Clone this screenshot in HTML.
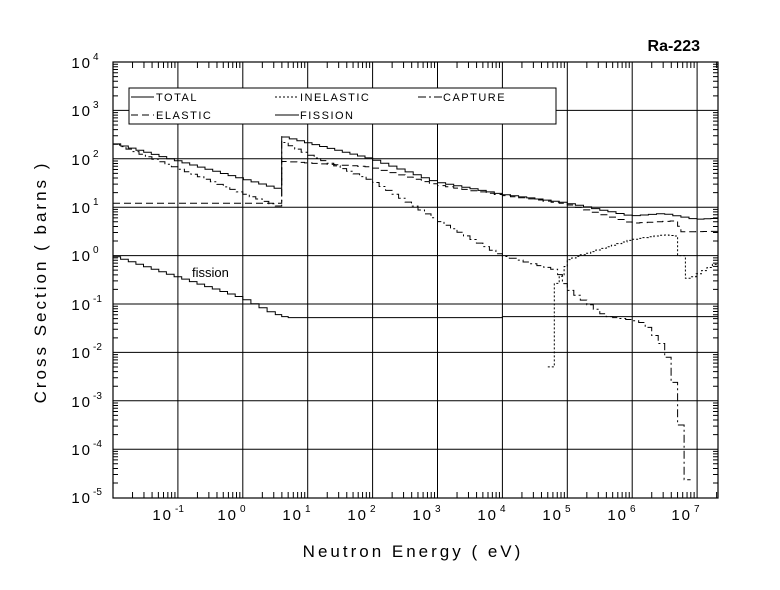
<!DOCTYPE html>
<html><head><meta charset="utf-8"><style>
html,body{margin:0;padding:0;background:#fff;}
svg{display:block;font-family:"Liberation Sans",sans-serif;}
.t{font-size:15px;letter-spacing:2px;fill:#000;}
.s{font-size:10px;fill:#000;}
</style></head><body>
<svg id="c" width="780" height="590" viewBox="0 0 780 590" xmlns="http://www.w3.org/2000/svg">
<rect width="780" height="590" fill="#fff"/>
<g id="grid" stroke="#000" stroke-width="1" fill="none"></g>
<g id="curves" fill="none" stroke="#000" stroke-width="1"></g>
<rect x="113" y="62" width="605" height="436" fill="none" stroke="#000" stroke-width="1.2"/>
<text x="700" y="51" text-anchor="end" style="font-size:16px;font-weight:bold">Ra-223</text>
<g class="t" text-anchor="end">
<text x="92" y="68">10</text><text x="92" y="116">10</text><text x="92" y="165">10</text><text x="92" y="213">10</text><text x="92" y="261">10</text><text x="92" y="310">10</text><text x="92" y="358">10</text><text x="92" y="407">10</text><text x="92" y="455">10</text><text x="92" y="503">10</text>
</g>
<g class="s">
<text x="93" y="60">4</text><text x="93" y="108">3</text><text x="93" y="157">2</text><text x="93" y="205">1</text><text x="93" y="253">0</text><text x="93" y="302">-1</text><text x="93" y="350">-2</text><text x="93" y="399">-3</text><text x="93" y="447">-4</text><text x="93" y="495">-5</text>
</g>
<g class="t" text-anchor="end">
<text x="173" y="520">10</text><text x="238" y="520">10</text><text x="303" y="520">10</text><text x="368" y="520">10</text><text x="433" y="520">10</text><text x="498" y="520">10</text><text x="563" y="520">10</text><text x="628" y="520">10</text><text x="692" y="520">10</text>
</g>
<g class="s">
<text x="175" y="512">-1</text><text x="240" y="512">0</text><text x="305" y="512">1</text><text x="370" y="512">2</text><text x="435" y="512">3</text><text x="500" y="512">4</text><text x="565" y="512">5</text><text x="630" y="512">6</text><text x="694" y="512">7</text>
</g>
<text x="413" y="557" text-anchor="middle" style="font-size:17px;letter-spacing:3px">Neutron Energy ( eV)</text>
<text transform="translate(46,282) rotate(-90)" text-anchor="middle" style="font-size:17px;letter-spacing:3px">Cross Section ( barns )</text>
<text x="192" y="277" style="font-size:13px">fission</text>
<rect x="129" y="88" width="427" height="36" fill="#fff" stroke="#000" stroke-width="1"/>
<g stroke="#000" fill="none">
<line x1="131" y1="97" x2="154" y2="97"/>
<line x1="131" y1="115" x2="154" y2="115" stroke-dasharray="7,4"/>
<line x1="275" y1="97" x2="299" y2="97" stroke-dasharray="2,2"/>
<line x1="275" y1="115" x2="299" y2="115"/>
<line x1="418" y1="97" x2="442" y2="97" stroke-dasharray="8,3,2,3"/>
</g>
<g style="font-size:11px;letter-spacing:1.5px">
<text x="156" y="101">TOTAL</text><text x="156" y="119">ELASTIC</text>
<text x="300" y="101">INELASTIC</text><text x="300" y="119">FISSION</text>
<text x="443" y="101">CAPTURE</text>
</g>
</svg>
<script>
var L=113,T=62,R=718,B=498,DX=64.9,DY=48.4;
function X(l){return L+(l+2)*DX;}function Y(l){return T+(4-l)*DY;}
var ns="http://www.w3.org/2000/svg";
var g=document.getElementById('grid'),d='';
for(var k=-1;k<=7;k++){d+='M'+X(k)+' '+T+'V'+B;}
for(var k=3;k>=-4;k--){d+='M'+L+' '+Y(k)+'H'+R;}
for(var k=-2;k<=7;k++)for(var m=2;m<=9;m++){var x=X(k+Math.log10(m));if(x>R)continue;d+='M'+x+' '+B+'v-6M'+x+' '+T+'v6';}
for(var k=-5;k<4;k++)for(var m=2;m<=9;m++){var y=Y(k+Math.log10(m));d+='M'+L+' '+y+'h5M'+R+' '+y+'h-5';}
var p=document.createElementNS(ns,'path');p.setAttribute('d',d);g.appendChild(p);
function stairs(pts,st){var s='',first=true;
for(var i=0;i<pts.length-1;i++){var a=pts[i],b=pts[i+1];
if(a[0]==b[0]){s+='L'+X(b[0]).toFixed(1)+' '+Y(b[1]).toFixed(1);continue;}
var n=Math.max(1,Math.round((b[0]-a[0])/st));
for(var j=0;j<n;j++){var x0=a[0]+(b[0]-a[0])*j/n,x1=a[0]+(b[0]-a[0])*(j+1)/n;var v=a[1]+(b[1]-a[1])*(j+0.5)/n;
if(first){s+='M'+X(x0).toFixed(1)+' '+Y(v).toFixed(1);first=false;}else s+='L'+X(x0).toFixed(1)+' '+Y(v).toFixed(1);
s+='L'+X(x1).toFixed(1)+' '+Y(v).toFixed(1);}}
return s;}
function add(pts,st,dash){var e=document.createElementNS(ns,'path');e.setAttribute('d',stairs(pts,st));if(dash)e.setAttribute('stroke-dasharray',dash);document.getElementById('curves').appendChild(e);}
add([[-2,2.33],[0.6,1.37],[0.6,2.47],[2,2.0],[3,1.52],[4,1.27],[5,1.09],[6,0.82],[6.5,0.87],[7,0.75],[7.32,0.77]],0.12);
add([[-2,1.08],[0.6,1.08],[0.6,1.95],[2,1.83],[3,1.46],[4,1.25],[5,1.07],[6,0.67],[6.7,0.72],[6.75,0.49],[7.32,0.5]],0.12,'7,4');
add([[-2,2.33],[0,1.29],[0.6,1.0],[0.6,2.37],[1,2.1],[2,1.55],[3,0.74],[4,0.0],[4.85,-0.3],[5,-0.67],[5.3,-0.97],[5.6,-1.25],[6,-1.33],[6.2,-1.4],[6.5,-1.9],[6.6,-2.3],[6.7,-2.94],[6.8,-4.06],[6.9,-5.2]],0.1,'8,3,2,3');
add([[4.7,-2.3],[4.8,-2.3],[4.8,-0.65],[4.95,-0.35],[5,-0.1],[5.2,0.0],[6,0.33],[6.5,0.43],[6.7,0.4],[6.7,0.0],[6.82,0.0],[6.82,-0.47],[6.9,-0.47],[7.32,-0.15]],0.08,'2,2');
add([[-2,0],[0,-0.87],[0.5,-1.2],[0.7,-1.28],[4,-1.28],[4,-1.26],[7.32,-1.26]],0.12);
</script>
</body></html>
